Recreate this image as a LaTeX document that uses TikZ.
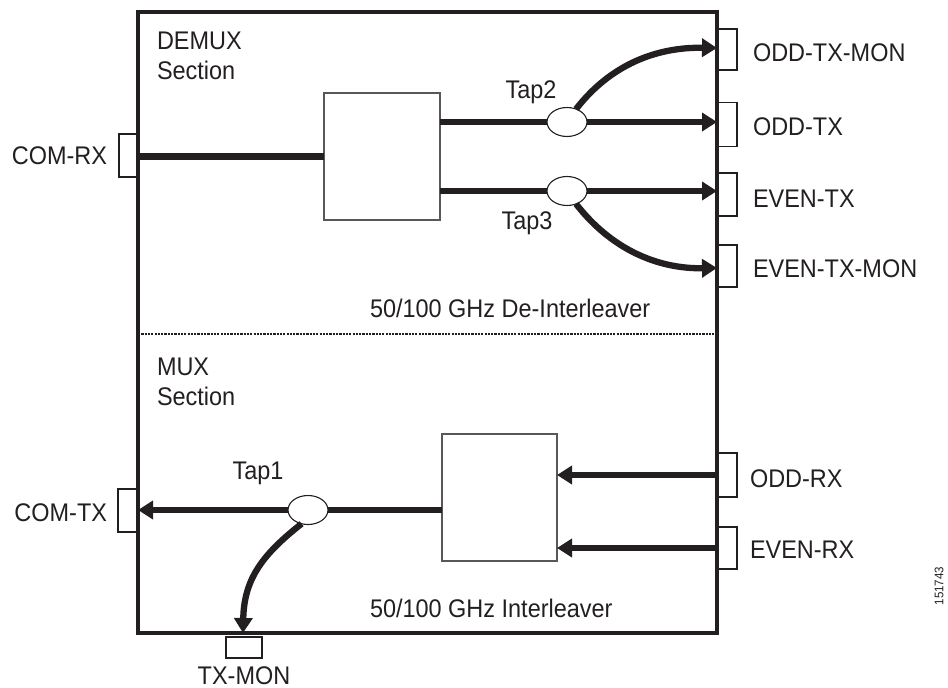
\documentclass[tikz,border=0pt]{standalone}
\usepackage{fontspec}
\setmainfont{Liberation Sans}[FakeStretch=0.92]
\usetikzlibrary{arrows.meta,shapes.geometric}
\definecolor{ink}{HTML}{231F20}
\begin{document}
\begin{tikzpicture}[x=1pt,y=-1pt,
  every node/.style={inner sep=0pt,outer sep=0pt,text=ink},
  lbl/.style={font=\fontsize{25.5pt}{30pt}\selectfont},
  port/.style={draw=ink,line width=1.1pt,rectangle,fill=white},
  blk/.style={draw=ink!75,line width=1.1pt,rectangle,fill=white,minimum width=116pt,minimum height=127pt},
  tap/.style={draw=ink,line width=1.1pt,ellipse,fill=white,minimum width=40pt,minimum height=29pt},
  fiber/.style={draw=ink,line width=6.3pt},
  farrow/.style={fiber,-{Triangle[length=15pt,width=18pt]}},
]
\useasboundingbox (0,0) rectangle (948,688);
% ports
\node[port,minimum width=19pt,minimum height=43pt] (comrx) at (128.5,155.5) {};
\node[port,minimum width=20pt,minimum height=41pt] (oddtxmon) at (727,49.5) {};
\node[port,minimum width=20pt,minimum height=44pt] (oddtx) at (727,124.5) {};
\node[port,minimum width=20pt,minimum height=43pt] (evntx) at (727,194.5) {};
\node[port,minimum width=20pt,minimum height=42pt] (evntxmon) at (727,266) {};
\node[port,minimum width=20pt,minimum height=44pt] (oddrx) at (727,475) {};
\node[port,minimum width=20pt,minimum height=42pt] (evnrx) at (727,548) {};
\node[port,minimum width=20pt,minimum height=43pt] (comtx) at (128,510.5) {};
\node[port,minimum width=36pt,minimum height=21pt] (txmon) at (244,647.5) {};
% main box
\node[draw=ink,line width=4.3pt,rectangle,minimum width=579pt,minimum height=621pt] (main) at (427.5,322.5) {};
\coordinate (divL) at (138,334);
\coordinate (divR) at (717,334);
\draw[ink,line width=2.6pt,dash pattern=on 2.2pt off 1.1pt] (divL) -- (divR);
% blocks
\node[blk] (dmx) at (382,156.5) {};
\node[blk,minimum width=115pt] (mx) at (499.5,497.5) {};
% DEMUX section
\draw[fiber] (main.west |- dmx.west) -- (dmx.west);
\node[tap] (t2) at (567,122) {};
\node[tap] (t3) at (567,191) {};
\draw[fiber] (dmx.east |- t2) -- (t2.west);
\draw[fiber] (dmx.east |- t3) -- (t3.west);
\draw[farrow] (t2.east) -- (t2.east -| oddtx.west);
\draw[farrow] (t3.east) -- (t3.east -| evntx.west);
\draw[farrow] (t2.55) .. controls +(35,-45) and +(-60,-1) .. ([yshift=1.5pt]oddtxmon.west);
\draw[farrow] (t3.-55) .. controls +(35,45) and +(-60,1) .. ([yshift=-2pt]evntxmon.west);
% MUX section
\node[tap] (t1) at (308,510) {};
\draw[fiber] (t1.east) -- (t1.east -| mx.west);
\draw[farrow] (t1.west) -- (t1.west -| comtx.east);
\draw[farrow] (oddrx.west) -- (oddrx.west -| mx.east);
\draw[farrow] (evnrx.west) -- (evnrx.west -| mx.east);
\draw[farrow] (t1.-115) .. controls +(-38,30) and +(1,-55) .. ([yshift=4pt,xshift=-1pt]txmon.north);
% labels
\node[lbl,anchor=base west] (demux) at (157,49) {DEMUX};
\node[lbl,anchor=base west] (sec1) at (157,79) {Section};
\node[lbl,anchor=base west] (mux) at (157,375) {MUX};
\node[lbl,anchor=base west] (sec2) at (157,405) {Section};
\node[lbl,anchor=base east] (lcomrx) at (107,164) {COM-RX};
\node[lbl,anchor=base east] (lcomtx) at (107,521) {COM-TX};
\node[lbl,anchor=base] (ltxmon) at (244,684) {TX-MON};
\node[lbl,anchor=base] (ltap1) at (258,479) {Tap1};
\node[lbl,anchor=base] (ltap2) at (531,98) {Tap2};
\node[lbl,anchor=base] (ltap3) at (527,229) {Tap3};
\node[lbl,anchor=base west] (loddtxmon) at (753,61) {ODD-TX-MON};
\node[lbl,anchor=base west] (loddtx) at (753,135) {ODD-TX};
\node[lbl,anchor=base west] (levntx) at (753,207) {EVEN-TX};
\node[lbl,anchor=base west] (levntxmon) at (753,277) {EVEN-TX-MON};
\node[lbl,anchor=base west] (loddrx) at (750,487) {ODD-RX};
\node[lbl,anchor=base west] (levnrx) at (750,558) {EVEN-RX};
\node[lbl,anchor=base west] (ldeint) at (370,317) {50/100 GHz De-Interleaver};
\node[lbl,anchor=base west] (lint) at (370,617) {50/100 GHz Interleaver};
\node[font=\fontsize{12.5pt}{14pt}\selectfont,rotate=90] (fig) at (939,586) {151743};
\end{tikzpicture}
\end{document}
